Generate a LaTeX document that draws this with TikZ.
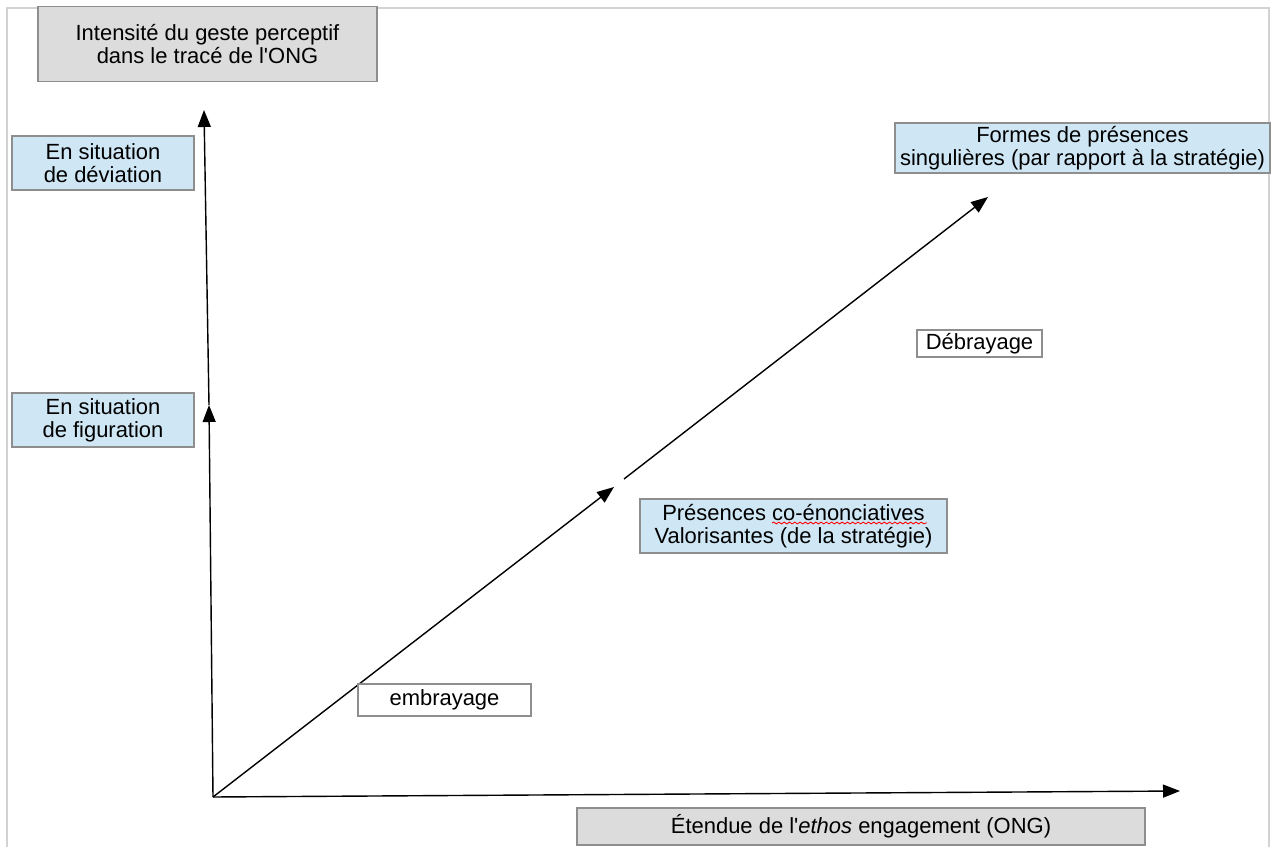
\documentclass[tikz,border=0pt]{standalone}
\usepackage{fontspec}
\setmainfont{Liberation Sans}
\usetikzlibrary{arrows.meta,decorations.pathmorphing}

\definecolor{boxgray}{HTML}{DCDCDC}
\definecolor{boxblue}{HTML}{CFE6F4}
\definecolor{edgegray}{HTML}{8E8E8E}
\definecolor{framegray}{HTML}{D2D2D2}

\begin{document}
\begin{tikzpicture}[
  x=0.02cm,y=-0.02cm,
  axisbox/.style={rectangle,draw=edgegray,fill=boxgray,line width=0.8pt,
                  align=center,inner sep=1pt,font=\fontsize{12.5}{13}\selectfont},
  zonebox/.style={rectangle,draw=edgegray,fill=boxblue,line width=0.8pt,
                  align=center,inner sep=1pt,font=\fontsize{12.5}{13}\selectfont},
  tagbox/.style={rectangle,draw=edgegray,fill=white,line width=0.8pt,
                 align=center,inner sep=1pt,font=\fontsize{12.5}{13}\selectfont},
  arr/.style={-{Triangle[length=0.34cm,width=0.26cm]},line width=0.8pt},
]
\useasboundingbox (0,0) rectangle (1274,847);

% Page frame
\draw[framegray,line width=1.2pt] (7,847) -- (7,8) -- (1269,8) -- (1269,847);

% Axis titles
\node[axisbox,minimum width=6.78cm,minimum height=1.5cm] (ytitle) at (207.5,44)
  {Intensité du geste  perceptif\\ dans le tracé de l\textquotesingle ONG};
\node[axisbox,minimum width=11.36cm,minimum height=0.74cm] (xtitle) at (861,826.5)
  {Étendue de l\textquotesingle\textit{ethos} engagement (ONG)};

% Levels on the vertical axis
\node[zonebox,minimum width=3.64cm,minimum height=1.08cm] (deviation) at (103,163)
  {En situation\\ de déviation};
\node[zonebox,minimum width=3.64cm,minimum height=1.08cm] (figuration) at (103,420)
  {En situation\\ de figuration};

% Axes
\coordinate (O) at (213,797);
\coordinate (ymid) at (209,405);
\coordinate (ytop) at (204,110);
\coordinate (xend) at (1180,791);
\draw[arr] (O) -- (ymid);
\draw[arr] (ymid) -- (ytop);
\draw[arr] (O) -- (xend);

% Diagonal (with a gap)
\coordinate (dmid) at (614,487);
\coordinate (dgap) at (624,479);
\coordinate (dend) at (988,197);
\draw[arr] (O) -- (dmid);
\draw[arr] (dgap) -- (dend);

% Labels along the diagonal
\node[tagbox,minimum width=3.46cm,minimum height=0.64cm] (embrayage) at (444.5,700)
  {embrayage};
\node[zonebox,minimum width=6.14cm,minimum height=1.08cm] (coenon) at (793.5,526)
  {Présences co-énonciatives\\ Valorisantes (de la stratégie)};
\node[tagbox,minimum width=2.5cm,minimum height=0.54cm] (debrayage) at (979.5,343.5)
  {Débrayage};
\node[zonebox,minimum width=7.5cm,minimum height=1.0cm] (singulier) at (1082.5,148)
  {Formes de présences\\ singulières (par rapport à la stratégie)};

% Spell-check squiggle
\draw[red,line width=0.5pt,decorate,
      decoration={snake,amplitude=0.5pt,segment length=3pt}] (772,523) -- (927,523);

\end{tikzpicture}
\end{document}
